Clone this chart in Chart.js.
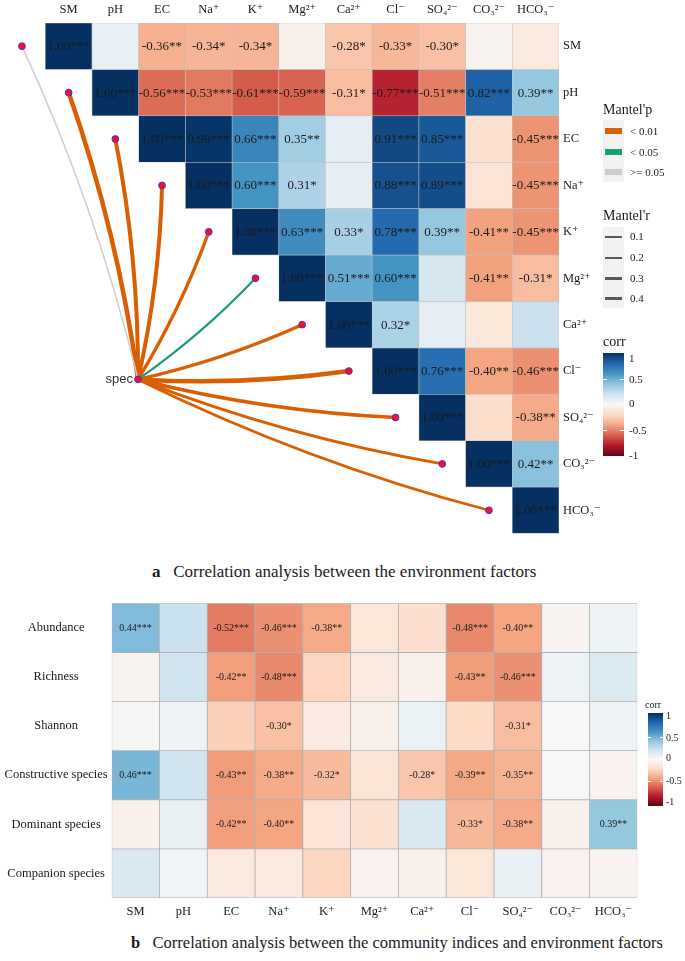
<!DOCTYPE html>
<html>
<head>
<meta charset="utf-8">
<script src="https://cdn.jsdelivr.net/npm/chart.js@4.4.1/dist/chart.umd.min.js"></script>
<style>
  html,body{margin:0;padding:0;background:#fff;}
  body{width:685px;height:961px;position:relative;overflow:hidden;font-family:"Liberation Serif","DejaVu Serif",serif;color:#1a1a1a;}
  .abs{position:absolute;white-space:nowrap;line-height:1;}
  .ttl{font-size:14px;}
  .lab{font-size:11px;}
  .panel{position:absolute;background:#f2f2f2;}
  .sw{position:absolute;}
  .tk{position:absolute;background:#fff;height:1px;}
</style>
</head>
<body>
<canvas id="topChart" width="685" height="545" style="position:absolute;left:0;top:0;width:685px;height:545px"></canvas>
<canvas id="botChart" width="685" height="340" style="position:absolute;left:0;top:590px;width:685px;height:340px"></canvas>

<!-- legend for chart a -->
<div class="abs ttl" style="left:603px;top:103px;">Mantel'p</div>
<div class="panel" style="left:603px;top:120px;width:21px;height:62px;"></div>
<div class="sw" style="left:605px;top:128px;width:17px;height:6px;background:#D95F02;"></div>
<div class="sw" style="left:605px;top:149px;width:17px;height:6px;background:#1B9E77;"></div>
<div class="sw" style="left:605px;top:169px;width:17px;height:6px;background:#CCCCCC;"></div>
<div class="abs lab" style="left:630px;top:126px;">&lt; 0.01</div>
<div class="abs lab" style="left:630px;top:147px;">&lt; 0.05</div>
<div class="abs lab" style="left:630px;top:167px;">&gt;= 0.05</div>

<div class="abs ttl" style="left:603px;top:209px;">Mantel'r</div>
<div class="panel" style="left:603px;top:227px;width:21px;height:81px;"></div>
<div class="sw" style="left:605px;top:236px;width:17px;height:1.7px;background:#595959;"></div>
<div class="sw" style="left:605px;top:256.5px;width:17px;height:2.4px;background:#595959;"></div>
<div class="sw" style="left:605px;top:276.8px;width:17px;height:3px;background:#595959;"></div>
<div class="sw" style="left:605px;top:296.5px;width:17px;height:3.7px;background:#595959;"></div>
<div class="abs lab" style="left:630px;top:231px;">0.1</div>
<div class="abs lab" style="left:630px;top:252px;">0.2</div>
<div class="abs lab" style="left:630px;top:273px;">0.3</div>
<div class="abs lab" style="left:630px;top:293px;">0.4</div>

<div class="abs ttl" style="left:603px;top:335px;">corr</div>
<div id="cbarA" class="sw" style="left:603px;top:353px;width:21px;height:103px;"></div>
<div class="tk" style="left:603px;top:379px;width:4px;"></div><div class="tk" style="left:620px;top:379px;width:4px;"></div>
<div class="tk" style="left:603px;top:404px;width:4px;"></div><div class="tk" style="left:620px;top:404px;width:4px;"></div>
<div class="tk" style="left:603px;top:430px;width:4px;"></div><div class="tk" style="left:620px;top:430px;width:4px;"></div>
<div class="abs lab" style="left:629px;top:353px;">1</div>
<div class="abs lab" style="left:629px;top:374px;">0.5</div>
<div class="abs lab" style="left:629px;top:398px;">0</div>
<div class="abs lab" style="left:629px;top:425px;">-0.5</div>
<div class="abs lab" style="left:629px;top:450px;">-1</div>

<div class="abs" style="left:152px;top:563px;font-size:17px;"><b>a</b>&nbsp;&nbsp; Correlation analysis between the environment factors</div>

<!-- legend for chart b -->
<div class="abs" style="left:645px;top:700px;font-size:10px;">corr</div>
<div id="cbarB" class="sw" style="left:648px;top:713px;width:15px;height:93px;"></div>
<div class="tk" style="left:648px;top:737px;width:3px;"></div><div class="tk" style="left:660px;top:737px;width:3px;"></div>
<div class="tk" style="left:648px;top:759px;width:3px;"></div><div class="tk" style="left:660px;top:759px;width:3px;"></div>
<div class="tk" style="left:648px;top:781px;width:3px;"></div><div class="tk" style="left:660px;top:781px;width:3px;"></div>
<div class="abs" style="left:666px;top:711px;font-size:10px;">1</div>
<div class="abs" style="left:666px;top:733px;font-size:10px;">0.5</div>
<div class="abs" style="left:666px;top:753px;font-size:10px;">0</div>
<div class="abs" style="left:666px;top:776px;font-size:10px;">-0.5</div>
<div class="abs" style="left:666px;top:797px;font-size:10px;">-1</div>

<div class="abs" style="left:131px;top:935px;font-size:16.5px;"><b>b</b>&nbsp;&nbsp; Correlation analysis between the community indices and environment factors</div>

<script>
// ---------------- data ----------------
const envFactors = ['SM','pH','EC','Na\u207A','K\u207A','Mg\u00B2\u207A','Ca\u00B2\u207A','Cl\u207B','SO\u2084\u00B2\u207B','CO\u2083\u00B2\u207B','HCO\u2083\u207B'];

// upper triangle of environment correlation matrix (null = lower triangle)
const corrSM   = [1.00, 0.09, -0.36, -0.34, -0.34, -0.05, -0.28, -0.33, -0.30, -0.03, -0.10];
const starSM   = ['***','','**','*','*','','*','*','*','',''];
const corrPH   = [null, 1.00, -0.56, -0.53, -0.61, -0.59, -0.31, -0.77, -0.51, 0.82, 0.39];
const starPH   = [null,'***','***','***','***','***','*','***','***','***','**'];
const corrEC   = [null, null, 1.00, 0.98, 0.66, 0.35, 0.10, 0.91, 0.85, -0.15, -0.45];
const starEC   = [null,null,'***','***','***','**','','***','***','','***'];
const corrNa   = [null, null, null, 1.00, 0.60, 0.31, 0.10, 0.88, 0.89, -0.14, -0.45];
const starNa   = [null,null,null,'***','***','*','','***','***','','***'];
const corrK    = [null, null, null, null, 1.00, 0.63, 0.33, 0.78, 0.39, -0.41, -0.45];
const starK    = [null,null,null,null,'***','***','*','***','**','**','***'];
const corrMg   = [null, null, null, null, null, 1.00, 0.51, 0.60, 0.17, -0.41, -0.31];
const starMg   = [null,null,null,null,null,'***','***','***','','**','*'];
const corrCa   = [null, null, null, null, null, null, 1.00, 0.32, 0.10, -0.12, 0.22];
const starCa   = [null,null,null,null,null,null,'***','*','','',''];
const corrCl   = [null, null, null, null, null, null, null, 1.00, 0.76, -0.40, -0.46];
const starCl   = [null,null,null,null,null,null,null,'***','***','**','***'];
const corrSO4  = [null, null, null, null, null, null, null, null, 1.00, -0.18, -0.38];
const starSO4  = [null,null,null,null,null,null,null,null,'***','','**'];
const corrCO3  = [null, null, null, null, null, null, null, null, null, 1.00, 0.42];
const starCO3  = [null,null,null,null,null,null,null,null,null,'***','**'];
const corrHCO3 = [null, null, null, null, null, null, null, null, null, null, 1.00];
const starHCO3 = [null,null,null,null,null,null,null,null,null,null,'***'];

// Mantel test between species and each factor
const mantelP = ['ns','p01','p01','p01','p01','p05','p01','p01','p01','p01','p01'];
const mantelR = [0.10, 0.40, 0.35, 0.35, 0.28, 0.18, 0.28, 0.40, 0.32, 0.25, 0.22];

// community indices vs environment factors
const indices = ['Abundance','Richness','Shannon','Constructive species','Dominant species','Companion species'];
const corrAbund  = [0.44, 0.22, -0.52, -0.46, -0.38, -0.12, -0.17, -0.48, -0.40, -0.03, 0.05];
const starAbund  = ['***','','***','***','**','','','***','**','',''];
const corrRich   = [-0.03, 0.20, -0.42, -0.48, -0.22, -0.10, -0.05, -0.43, -0.46, 0.06, 0.14];
const starRich   = ['','','**','***','','','','**','***','',''];
const corrShan   = [-0.01, 0.04, -0.24, -0.30, -0.09, -0.06, 0.07, -0.20, -0.31, 0.00, 0.04];
const starShan   = ['','','','*','','','','','*','',''];
const corrConstr = [0.46, 0.20, -0.43, -0.38, -0.32, -0.13, -0.28, -0.39, -0.35, 0.00, -0.04];
const starConstr = ['***','','**','**','*','','*','**','**','',''];
const corrDomin  = [-0.05, 0.08, -0.42, -0.40, -0.13, -0.15, 0.15, -0.33, -0.38, -0.05, 0.39];
const starDomin  = ['','','**','**','','','','*','**','','**'];
const corrCompan = [0.15, 0.03, -0.10, -0.10, -0.22, -0.04, -0.05, -0.12, 0.08, -0.04, -0.03];
const starCompan = ['','','','','','','','','','',''];

// ---------------- styling helpers ----------------
const RDBU = ['#67001F','#B2182B','#D6604D','#F4A582','#FDDBC7','#F7F7F7','#D1E5F0','#92C5DE','#4393C3','#2166AC','#053061'];
function hex2rgb(h){return [parseInt(h.slice(1,3),16),parseInt(h.slice(3,5),16),parseInt(h.slice(5,7),16)];}
function corrColor(v){
  const t = Math.max(0, Math.min(10, (v + 1) / 2 * 10));
  const i = Math.min(9, Math.floor(t)), f = t - i;
  const a = hex2rgb(RDBU[i]), b = hex2rgb(RDBU[i+1]);
  const c = a.map((x,k)=>Math.round(x + (b[k]-x)*f));
  return 'rgb(' + c.join(',') + ')';
}
const grad = 'linear-gradient(to top,' + RDBU.join(',') + ')';
document.getElementById('cbarA').style.background = grad;
document.getElementById('cbarB').style.background = grad;

const SERIF = "'Liberation Serif','DejaVu Serif',serif";
const INK = '#1a1a1a';
const P_COLORS = {p01:'#D95F02', p05:'#1B9E77', ns:'#CCCCCC'};
function rWidth(r){ return 0.5 + r * 10; }
const CURVATURE = 0.05;

const cellLabelPlugin = {
  id: 'cellLabels',
  beforeDatasetDraw(chart, args){
    const ds = chart.data.datasets[args.index];
    if (!ds.curved) return;
    const pts = args.meta.data;
    const a = pts[0], b = pts[1];
    const dx = b.x - a.x, dy = b.y - a.y;
    const cx = (a.x + b.x) / 2 - dy * CURVATURE;
    const cy = (a.y + b.y) / 2 + dx * CURVATURE;
    const ctx = chart.ctx;
    ctx.save();
    ctx.strokeStyle = ds.borderColor; ctx.lineWidth = ds.borderWidth; ctx.lineCap = 'round';
    ctx.beginPath(); ctx.moveTo(a.x, a.y); ctx.quadraticCurveTo(cx, cy, b.x, b.y); ctx.stroke();
    ctx.restore();
    return false;
  },
  afterDatasetsDraw(chart){
    const ctx = chart.ctx;
    chart.data.datasets.forEach((ds, i) => {
      const meta = chart.getDatasetMeta(i);
      if (ds.cellLabels) {
        ctx.save();
        ctx.font = ds.cellFont; ctx.fillStyle = INK;
        ctx.textAlign = 'center'; ctx.textBaseline = 'middle';
        meta.data.forEach((el, j) => {
          const t = ds.cellLabels[j]; if (!t) return;
          const p = el.getProps(['x','y','base'], true);
          ctx.fillText(t, p.x, (p.y + p.base) / 2 + 0.5);
        });
        ctx.restore();
      }
      if (ds.nodeLabel) {
        const el = meta.data[0];
        ctx.save();
        ctx.font = "13px 'Liberation Sans', Arial, sans-serif"; ctx.fillStyle = '#333';
        ctx.textAlign = 'right'; ctx.textBaseline = 'middle';
        ctx.fillText(ds.nodeLabel, el.x - 5, el.y);
        ctx.restore();
      }
    });
  }
};

function heatDatasets(rows, stars, font, borderColor, borderWidth){
  return rows.map((vals, r) => {
    const data = [], colors = [], labels = [];
    vals.forEach((v, c) => {
      if (v === null) return;
      data.push({x: c, y: [r - 0.5, r + 0.5]});
      colors.push(corrColor(v));
      labels.push(stars[r][c] === '' ? '' : v.toFixed(2) + stars[r][c]);
    });
    return {
      type: 'bar', data, backgroundColor: colors, borderColor, borderWidth,
      borderSkipped: false, grouped: false, barPercentage: 1, categoryPercentage: 1,
      cellLabels: labels, cellFont: font, order: 3
    };
  });
}

function hideGrid(){ return {display:false, drawTicks:false}; }

// ---------------- chart a ----------------
const topRows  = [corrSM, corrPH, corrEC, corrNa, corrK, corrMg, corrCa, corrCl, corrSO4, corrCO3, corrHCO3];
const topStars = [starSM, starPH, starEC, starNa, starK, starMg, starCa, starCl, starSO4, starCO3, starHCO3];
const specNode = {x: 1.485, y: 7.18};
const targetNodes = envFactors.map((f, i) => ({x: i - 1, y: i}));

const linkDatasets = envFactors.map((f, i) => ({
  type: 'line', data: [specNode, targetNodes[i]], curved: true,
  borderColor: P_COLORS[mantelP[i]], borderWidth: rWidth(mantelR[i]),
  borderCapStyle: 'round', pointRadius: 0, fill: false, tension: 0, order: 2
}));
const nodeDataset = {
  type: 'line', showLine: false, data: [specNode].concat(targetNodes),
  pointRadius: 3.4, pointBackgroundColor: '#FF1010', pointBorderColor: '#3333FF',
  pointBorderWidth: 1, order: 1, nodeLabel: 'spec'
};

new Chart(document.getElementById('topChart'), {
  type: 'bar',
  data: { datasets: heatDatasets(topRows, topStars, '13px ' + SERIF, 'rgba(190,190,190,0.9)', 0.6).concat(linkDatasets, [nodeDataset]) },
  options: {
    responsive: false, animation: false, events: [],
    layout: {autoPadding: false, padding: {left: 0, right: 0, top: 0, bottom: 9}},
    plugins: {legend: {display: false}, tooltip: {enabled: false}},
    scales: {
      x: {
        type: 'linear', position: 'top', min: -1.47, max: 10.5, offset: false,
        grid: hideGrid(), border: {display: false},
        afterBuildTicks: s => { s.ticks = envFactors.map((f, i) => ({value: i})); },
        afterFit: s => { s.height = 23; },
        ticks: {callback: v => envFactors[v], font: {family: SERIF, size: 12.5}, color: INK, padding: 6, maxRotation: 0, autoSkip: false}
      },
      y: {
        type: 'linear', position: 'right', min: -0.5, max: 10.5, reverse: true, beginAtZero: false,
        grid: hideGrid(), border: {display: false},
        afterBuildTicks: s => { s.ticks = envFactors.map((f, i) => ({value: i})); },
        afterFit: s => { s.width = 126; },
        ticks: {callback: v => envFactors[v], font: {family: SERIF, size: 12.5}, color: INK, padding: 4, autoSkip: false}
      }
    }
  },
  plugins: [cellLabelPlugin]
});

// ---------------- chart b ----------------
const botRows  = [corrAbund, corrRich, corrShan, corrConstr, corrDomin, corrCompan];
const botStars = [starAbund, starRich, starShan, starConstr, starDomin, starCompan];

new Chart(document.getElementById('botChart'), {
  type: 'bar',
  data: { datasets: heatDatasets(botRows, botStars, '10px ' + SERIF, 'rgba(175,175,175,0.95)', 0.8) },
  options: {
    responsive: false, animation: false, events: [],
    layout: {autoPadding: false, padding: {left: 0, right: 47.7, top: 13.3, bottom: 0}},
    plugins: {legend: {display: false}, tooltip: {enabled: false}},
    scales: {
      x: {
        type: 'linear', position: 'bottom', min: -0.5, max: 10.5, offset: false,
        grid: hideGrid(), border: {display: false},
        afterBuildTicks: s => { s.ticks = envFactors.map((f, i) => ({value: i})); },
        afterFit: s => { s.height = 32; },
        ticks: {callback: v => envFactors[v], font: {family: SERIF, size: 12.5}, color: INK, padding: 6, maxRotation: 0, autoSkip: false}
      },
      y: {
        type: 'linear', position: 'left', min: -0.5, max: 5.5, reverse: true, beginAtZero: false,
        grid: hideGrid(), border: {display: false},
        afterBuildTicks: s => { s.ticks = indices.map((f, i) => ({value: i})); },
        afterFit: s => { s.width = 111.7; },
        ticks: {callback: v => indices[v], font: {family: SERIF, size: 12.5}, color: INK, padding: 4, crossAlign: 'center', autoSkip: false}
      }
    }
  },
  plugins: [cellLabelPlugin]
});
</script>
</body>
</html>
